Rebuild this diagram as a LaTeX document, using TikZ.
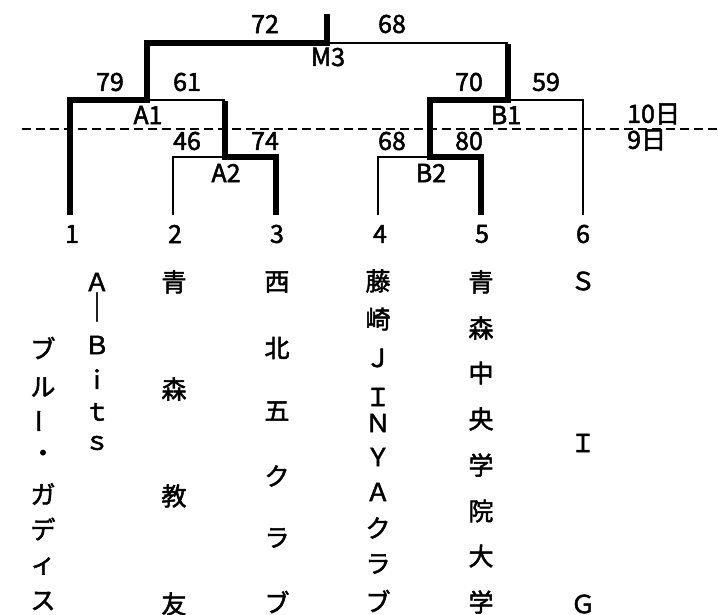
\documentclass[tikz,border=0pt]{standalone}
\usepackage{graphicx}
\usepackage{fontspec}
\setmainfont{Noto Sans CJK JP}[FakeBold=2]
\begin{document}
\begin{tikzpicture}[x=1pt,y=-1pt,
  thinl/.style={line width=2.3pt},
  thickl/.style={line width=6.5pt},
  lbl/.style={inner sep=0pt, font=\fontsize{25}{29}\selectfont},
  ch/.style={lbl}]
\useasboundingbox (0,0) rectangle (718,615);
% junctions
\coordinate (top) at (327,14);
\coordinate (M3) at (327,43);
\coordinate (A1) at (147,100);
\coordinate (B1) at (508,100);
\coordinate (A2) at (225,157);
\coordinate (B2) at (430,157);
\foreach \i/\x in {1/70,2/173,3/276,4/378,5/481,6/583}
  \coordinate (t\i) at (\x,215);
\coordinate (dl) at (22,129);
\coordinate (dr) at (718,129);
% dashed day line
\draw[line width=2pt, dash pattern=on 9pt off 5pt] (dl) -- (dr);
% thin lines
\draw[thinl] (M3) -- (M3 -| B1);
\draw[thinl] (A1) -- (A1 -| A2);
\draw[thinl] (A2) -| (t2);
\draw[thinl] (B1) -| (t6);
\draw[thinl] (B2) -| (t4);
% thick lines
\draw[thickl] (top) -- (M3) -| (A1) -| (t1);
\draw[thickl] ([yshift=-1pt]A1 -| A2) -- (A2) -| (t3);
\draw[thickl] ([yshift=-1pt]M3 -| B1) -- (B1) -| (B2) -| (t5);
% scores and match labels
\node[lbl] (s72) at (265,24) {72};
\node[lbl] (s68a) at (392,24) {68};
\node[lbl] (lM3) at (328,57) {M3};
\node[lbl] (s79) at (110,82) {79};
\node[lbl] (s61) at (187,82) {61};
\node[lbl] (lA1) at (148,115) {A1};
\node[lbl] (s46) at (187,141) {46};
\node[lbl] (s74) at (265,141) {74};
\node[lbl] (lA2) at (226,173) {A2};
\node[lbl] (s70) at (469,82) {70};
\node[lbl] (s59) at (546,82) {59};
\node[lbl] (lB1) at (506,115) {B1};
\node[lbl] (s68b) at (392,141) {68};
\node[lbl] (s80) at (469,141) {80};
\node[lbl] (lB2) at (431,173) {B2};
\node[lbl, anchor=west] (d10) at (627,114) {10日};
\node[lbl, anchor=west] (d9) at (627,140) {9日};
% seed numbers
\foreach \i/\x in {1/72,2/175,3/277,4/380,5/482,6/583}
  \node[lbl] (n\i) at (\x,234) {\i};
% team names (vertical)
\foreach \c/\y [count=\k] in {Ａ/282,Ｂ/345,ｉ/379,ｔ/412,ｓ/443}
  \node[ch] (ta\k) at (97,\y) {\c};
\node[ch] (tabar) at (97,307) {\scalebox{1}[1.15]{｜}};
\foreach \c/\y [count=\k] in {ブ/348,ル/387,・/456,ガ/494,デ/529,ィ/566,ス/601}
  \node[ch] (tb\k) at (43,\y) {\c};
\node[ch, rotate=90] (tbbar) at (43,421) {ー};
\foreach \c/\y [count=\k] in {青/282,森/389,教/496,友/604}
  \node[ch] (tc\k) at (174,\y) {\c};
\foreach \c/\y [count=\k] in {西/282,北/348,五/411,ク/476,ラ/538,ブ/602}
  \node[ch] (td\k) at (277,\y) {\c};
\foreach \c/\y [count=\k] in {藤/281,崎/319,Ｊ/358,Ｉ/397,Ｎ/423,Ｙ/457,Ａ/492,ク/528,ラ/564,ブ/601}
  \node[ch] (te\k) at (378,\y) {\c};
\foreach \c/\y [count=\k] in {青/282,森/328,中/373,央/419,学/465,院/511,大/556,学/602}
  \node[ch] (tf\k) at (481,\y) {\c};
\foreach \c/\y [count=\k] in {Ｓ/281,Ｉ/443,Ｇ/604}
  \node[ch] (tg\k) at (583,\y) {\c};
\end{tikzpicture}
\end{document}
